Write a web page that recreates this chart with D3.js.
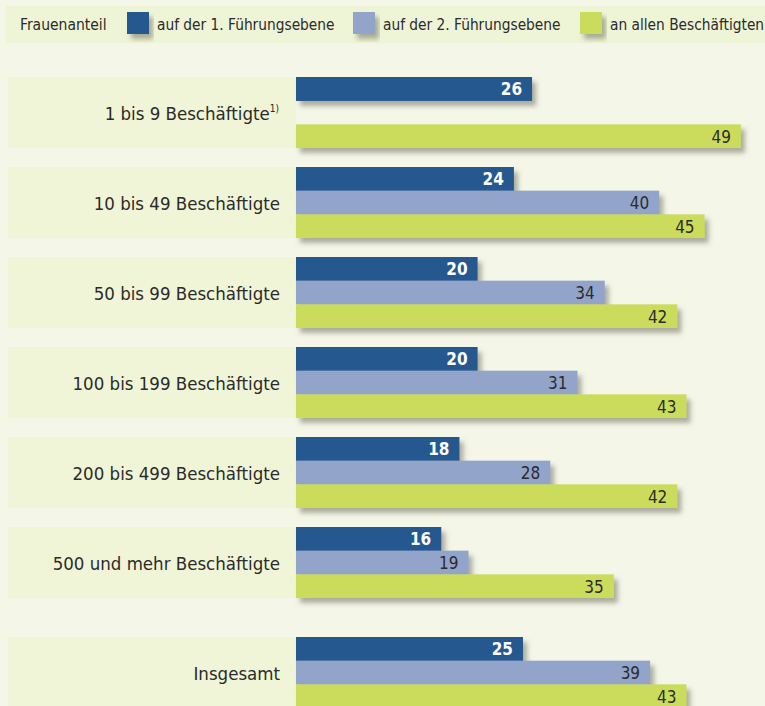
<!DOCTYPE html>
<html><head><meta charset="utf-8">
<script src="https://cdn.jsdelivr.net/npm/d3@7"></script>
<style>
html,body{margin:0;padding:0;background:#f4f6e8;}
svg{display:block;}
text{font-family:"DejaVu Sans Condensed","DejaVu Sans",sans-serif;font-stretch:condensed;}
</style></head>
<body>
<svg id="chart" width="765" height="706"></svg>
<script>
const categories = ["1 bis 9 Beschäftigte","10 bis 49 Beschäftigte","50 bis 99 Beschäftigte","100 bis 199 Beschäftigte","200 bis 499 Beschäftigte","500 und mehr Beschäftigte","Insgesamt"];
const footnotes = ["1)","","","","","",""];
const seriesNames = ["auf der 1. Führungsebene","auf der 2. Führungsebene","an allen Beschäftigten"];
const firstLevel = [26,24,20,20,18,16,25];
const secondLevel = [null,40,34,31,28,19,39];
const allEmployees = [49,45,42,43,42,35,43];
const legendTitle = "Frauenanteil";
const colors = ["#275890","#93a4cb","#cbdc5c"];
const textColors = ["#ffffff","#2b2b2b","#2b2b2b"];

const svg = d3.select("#chart");
const defs = svg.append("defs");
const f = defs.append("filter").attr("id","sh").attr("x","-10%").attr("y","-30%").attr("width","130%").attr("height","190%");
f.append("feDropShadow").attr("dx",4).attr("dy",5).attr("stdDeviation",2.8).attr("flood-color","#6f7060").attr("flood-opacity",0.55);

const series = [firstLevel, secondLevel, allEmployees];

// Legend band
svg.append("rect").attr("x",6).attr("y",6).attr("width",759).attr("height",37).attr("fill","#eef4d6");
svg.append("text").attr("x",20).attr("y",30).attr("font-size",15.5).attr("fill","#2b2b2b").text(legendTitle);
const legX = [127,353,580];
seriesNames.forEach((n,i)=>{
  svg.append("rect").attr("x",legX[i]).attr("y",12).attr("width",22).attr("height",22).attr("fill",colors[i]).attr("filter","url(#sh)");
  svg.append("text").attr("x",legX[i]+30).attr("y",30).attr("font-size",15.3).attr("fill","#2b2b2b").text(n);
});

const x = d3.scaleLinear().domain([0,50]).range([296,750]);
const groupY = d3.scaleLinear().domain([0,1]).range([77,167]);
const yTop = i => groupY(i) + (i === categories.length-1 ? 20 : 0);
const inner = d3.scaleBand().domain([0,1,2]).range([0,71]);

const g = svg.selectAll("g.grp").data(categories).join("g").attr("class","grp")
  .attr("transform",(d,i)=>`translate(0,${yTop(i)})`);

g.append("rect").attr("x",8).attr("y",0).attr("width",288).attr("height",71).attr("fill","#eff5d6");
const lab = g.append("text").attr("x",(d,i)=>footnotes[i]?279:280).attr("y",35.5+7.5).attr("text-anchor","end")
  .attr("font-size",18.5).attr("fill","#2b2b2b");
lab.append("tspan").text(d=>d);
lab.append("tspan").attr("font-size",10).attr("dy",-8).text((d,i)=>footnotes[i]);

series.forEach((vals,s)=>{
  g.each(function(d,i){
    const v = vals[i];
    if (v == null) return;
    const gg = d3.select(this);
    gg.append("rect").attr("x",x(0)).attr("y",inner(s)).attr("width",x(v)-x(0)).attr("height",inner.bandwidth()+(s<2?0.3:0))
      .attr("fill",colors[s]).attr("filter","url(#sh)");
  });
});
series.forEach((vals,s)=>{
  g.each(function(d,i){
    const v = vals[i];
    if (v == null) return;
    d3.select(this).append("text").attr("x",x(v)-10).attr("y",inner(s)+inner.bandwidth()/2+6.5)
      .attr("text-anchor","end").attr("font-size",17).attr("font-weight",s===0?"bold":"normal")
      .attr("fill",textColors[s]).text(v);
  });
});
</script>
</body></html>
